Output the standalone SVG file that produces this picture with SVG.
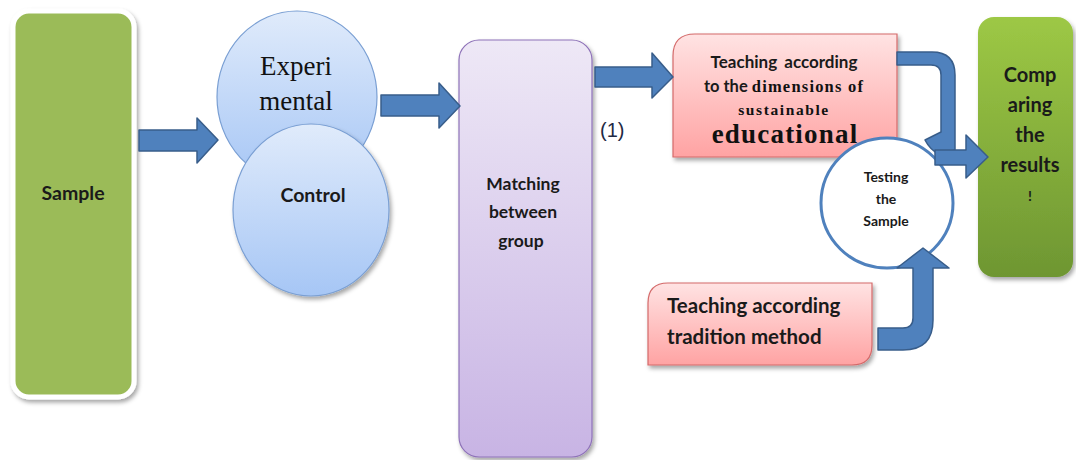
<svg xmlns="http://www.w3.org/2000/svg" width="1076" height="460" viewBox="0 0 1076 460">
<defs>
<style>
.sans{font-family:Lato,"Liberation Sans",Arial,sans-serif;font-weight:bold;fill:#1a1a1a}
.serif{font-family:"Liberation Serif","Times New Roman",serif;fill:#111}
.arrow{fill:#4F81BD;stroke:#385D8A;stroke-width:1.5;stroke-linejoin:round}
</style>
<filter id="sh" x="-20%" y="-20%" width="140%" height="140%">
<feDropShadow dx="2" dy="3" stdDeviation="2" flood-color="#000" flood-opacity="0.35"/>
</filter>
<linearGradient id="gBlue" x1="0" y1="0" x2="0" y2="1">
<stop offset="0" stop-color="#E0EBFB"/><stop offset="1" stop-color="#A6C6F5"/>
</linearGradient>
<linearGradient id="gPurple" x1="0" y1="0" x2="0" y2="1">
<stop offset="0" stop-color="#EEE8F6"/><stop offset="1" stop-color="#C8B4E4"/>
</linearGradient>
<linearGradient id="gPink" x1="0" y1="0" x2="0" y2="1">
<stop offset="0" stop-color="#FFE3E3"/><stop offset="1" stop-color="#FFA3A3"/>
</linearGradient>
<linearGradient id="gGreen" x1="0" y1="0" x2="0" y2="1">
<stop offset="0" stop-color="#9DC845"/><stop offset="1" stop-color="#6E9632"/>
</linearGradient>
</defs>
<rect width="1076" height="460" fill="#fff"/>

<g id="sample">
<rect x="13" y="11" width="121" height="386" rx="16" fill="#9BBB59" stroke="#fff" stroke-width="5" filter="url(#sh)"/>
<text class="sans" x="73" y="200" font-size="19.5" text-anchor="middle">Sample</text>
</g>

<g id="experimental">
<ellipse cx="297" cy="97" rx="80" ry="86" fill="url(#gBlue)" stroke="#7A9FD3" stroke-width="1.2"/>
<text class="serif" x="296" y="75" font-size="27" text-anchor="middle">Experi</text>
<text class="serif" x="296" y="110" font-size="27" text-anchor="middle">mental</text>
</g>

<g id="control">
<ellipse cx="311" cy="210" rx="78" ry="86" fill="url(#gBlue)" stroke="#7A9FD3" stroke-width="1.2" filter="url(#sh)"/>
<text class="sans" x="313" y="202" font-size="19.5" text-anchor="middle">Control</text>
</g>

<g id="matching">
<rect x="459" y="40" width="133" height="417" rx="20" fill="url(#gPurple)" stroke="#8E72B8" stroke-width="1.2" filter="url(#sh)"/>
<text class="sans" x="523" y="190" font-size="17.5" text-anchor="middle">Matching</text>
<text class="sans" x="523" y="218" font-size="17.5" text-anchor="middle">between</text>
<text class="sans" x="521" y="247" font-size="17.5" text-anchor="middle">group</text>
</g>

<g id="label1">
<text x="600" y="137" font-family="'Liberation Sans',Arial,sans-serif" font-size="20" fill="#1F2A44">(1)</text>
</g>

<g id="teaching-sustainable">
<path d="M695,34 H897 V157 H673 V56 Q673,34 695,34 Z" fill="url(#gPink)" stroke="#D46A6A" stroke-width="1.2" filter="url(#sh)"/>
<text class="sans" x="784" y="68" font-size="17" word-spacing="3" text-anchor="middle">Teaching according</text>
<text x="784" y="92" font-size="16.5" text-anchor="middle" font-weight="bold"><tspan class="sans">to the </tspan><tspan class="serif" letter-spacing="1.2">dimensions of</tspan></text>
<text class="serif" x="784" y="115" font-size="15.5" font-weight="bold" letter-spacing="1.6" text-anchor="middle">sustainable</text>
<text class="serif" x="785" y="143" font-size="27" font-weight="bold" letter-spacing="1.2" text-anchor="middle">educational</text>
</g>

<g id="teaching-tradition">
<path d="M668,283 H872 V345 Q872,365 852,365 H648 V303 Q648,283 668,283 Z" fill="url(#gPink)" stroke="#D46A6A" stroke-width="1.2" filter="url(#sh)"/>
<text class="sans" x="667" y="313" font-size="20.5">Teaching according</text>
<text class="sans" x="667" y="344" font-size="20.5">tradition method</text>
</g>

<g id="testing">
<ellipse cx="887" cy="203" rx="66" ry="65" fill="#fff" stroke="#4F81BD" stroke-width="3"/>
<text class="sans" x="886" y="182" font-size="14" text-anchor="middle">Testing</text>
<text class="sans" x="886" y="204" font-size="14" text-anchor="middle">the</text>
<text class="sans" x="886" y="226" font-size="14" text-anchor="middle">Sample</text>
</g>

<g id="comparing">
<rect x="978" y="17" width="95" height="260" rx="16" fill="url(#gGreen)" filter="url(#sh)"/>
<text class="sans" x="1030" y="82" font-size="20" text-anchor="middle">Comp</text>
<text class="sans" x="1030" y="112" font-size="20" text-anchor="middle">aring</text>
<text class="sans" x="1030" y="142" font-size="20" text-anchor="middle">the</text>
<text class="sans" x="1030" y="172" font-size="20" text-anchor="middle">results</text>
<text class="sans" x="1030" y="201" font-size="14" text-anchor="middle">!</text>
</g>

<g id="connectors">
<path class="arrow" d="M139,130 H197 V118 L218,140 L197,163 V151 H139 Z"/>
<path class="arrow" d="M381,95 H439 V83 L460,106 L439,128 V116 H381 Z"/>
<path class="arrow" d="M595,67 H652 V53 L673,77 L652,98 V87 H595 Z"/>
<path class="arrow" d="M897,52 H932 Q955,52 955,75 V150 L940,155 Q930,150 925,140 L941,132 V75 Q941,65 931,65 H897 Z"/>
<path class="arrow" d="M935,150 H966 V135 L988,157 L966,178 V165 H935 Z"/>
<path class="arrow" d="M878,328 H903 Q913,328 913,318 V268 H897 L923,248 L949,268 H933 V320 Q933,350 903,350 H878 Z"/>
</g>
</svg>
